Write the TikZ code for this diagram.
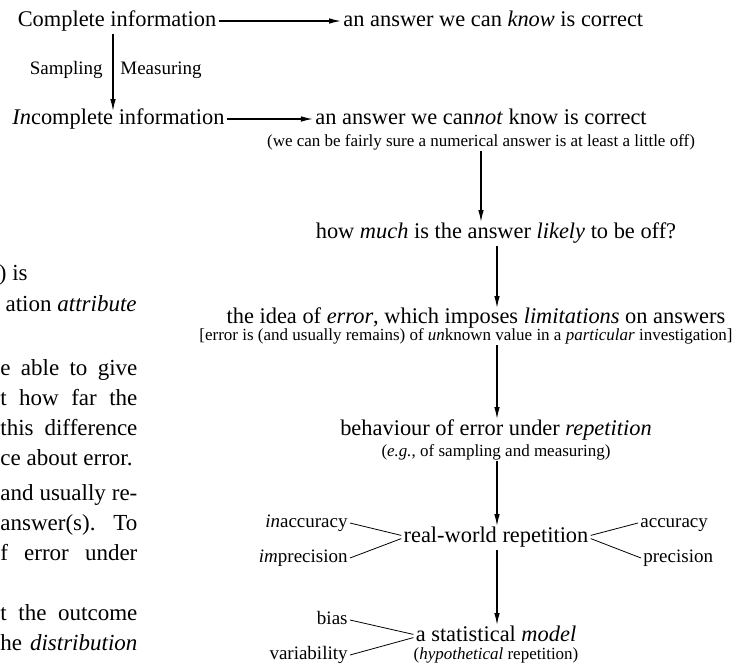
\documentclass[tikz,border=0pt]{standalone}
\usepackage{fontspec}
\setmainfont{Liberation Serif}
\usetikzlibrary{arrows.meta}
\newcommand{\jline}[1]{\makebox[68.5pt][s]{#1}}
\begin{document}
\begin{tikzpicture}[x=0.5pt,y=-0.5pt,
  every node/.style={inner sep=1pt},
  main/.style={font=\fontsize{11.2}{13}\selectfont, text height=8pt, text depth=2.6pt},
  sub/.style={font=\fontsize{8.5}{10}\selectfont, text height=6pt, text depth=2pt, inner sep=0.5pt},
  lab/.style={font=\fontsize{9.5}{11}\selectfont, text height=6.8pt, text depth=2.2pt},
  body/.style={font=\fontsize{11.5}{13}\selectfont, text height=8.2pt, text depth=2.7pt, inner sep=0pt},
  arr/.style={draw, line width=0.65pt, -{Latex[length=6pt,width=2.8pt]}},
  twig/.style={draw, line width=0.4pt}]
\useasboundingbox (0,0) rectangle (752,665);
\coordinate (vx) at (113,0);
\coordinate (col) at (497,0);

\node[main] (ci) at (117,21) {Complete information};
\node[main, anchor=west] (kn) at (341,21) {an answer we can \textit{know} is correct};
\node[main, anchor=west] (ii) at (10,119) {\textit{In}complete information};
\node[main] (cn) at (481,119) {an answer we can\textit{not} know is correct};
\node[sub] (cns) at (481,142) {(we can be fairly sure a numerical answer is at least a little off)};
\node[lab, anchor=east] (samp) at (105,70) {Sampling};
\node[lab, anchor=west] (meas) at (118,70) {Measuring};
\node[main] (how) at (496,233) {how \textit{much} is the answer \textit{likely} to be off?};
\node[main] (idea) at (476,318) {the idea of \textit{error}, which imposes \textit{limitations} on answers};
\node[sub] (ideas) at (466,336) {[error is (and usually remains) of \textit{un}known value in a \textit{particular} investigation]};
\node[main] (beh) at (496,430) {behaviour of error under \textit{repetition}};
\node[sub] (behs) at (496,452) {(\textit{e.g.}, of sampling and measuring)};
\node[main] (rw) at (496,537) {real-world repetition};
\node[lab, anchor=east] (inacc) at (350,523) {\textit{in}accuracy};
\node[lab, anchor=east] (impr) at (350,558) {\textit{im}precision};
\node[lab, anchor=west] (acc) at (638,523) {accuracy};
\node[lab, anchor=west] (prec) at (641,558) {precision};
\node[main] (model) at (496,636) {a statistical \textit{model}};
\node[sub] (hyp) at (496,655) {(\textit{hypothetical} repetition)};
\node[lab, anchor=east] (bias) at (350,620) {bias};
\node[lab, anchor=east] (var) at (350,655) {variability};

\draw[arr] (ci) -- (kn);
\draw[arr, shorten >=-2.5pt] (ci.south -| vx) -- (ii.north -| vx);
\draw[arr] (ii) -- (cn);
\draw[arr, shorten >=-1pt] (cns.south) -- (how.north -| cns);
\draw[arr, shorten >=-1.5pt] (how.south -| col) -- (idea.north -| col);
\draw[arr, shorten >=-1pt] (ideas.south -| col) -- (beh.north -| col);
\draw[arr, shorten >=-1pt] (behs.south -| col) -- (rw.north -| col);
\draw[arr, shorten >=-1pt] (rw.south -| col) -- (model.north -| col);

\draw[twig] (inacc.east) -- ([yshift=0.8pt]rw.west);
\draw[twig] (impr.east) -- ([yshift=-0.8pt]rw.west);
\draw[twig] ([yshift=0.8pt]rw.east) -- (acc.west);
\draw[twig] ([yshift=-0.8pt]rw.east) -- (prec.west);
\draw[twig] (bias.east) -- ([yshift=0.8pt]model.west);
\draw[twig] (var.east) -- ([yshift=-0.8pt]model.west);

\begin{scope}
\clip (0,0) rectangle (752,665);
\node[body, anchor=east] (t1) at (28,275) {) is};
\node[body, anchor=east] (t2) at (137,306) {ation \textit{attribute}};
\node[body, anchor=west] (t3) at (0,370) {\jline{e able to give}};
\node[body, anchor=west] (t4) at (0,400) {\jline{t how far the}};
\node[body, anchor=west] (t5) at (0,430) {\jline{this difference}};
\node[body, anchor=west] (t6) at (0,460) {ce about error.};
\node[body, anchor=west] (t7) at (0,495) {\jline{and usually re-}};
\node[body, anchor=west] (t8) at (0,525) {\jline{answer(s).\ \ To}};
\node[body, anchor=west] (t9) at (0,555) {\jline{f error under}};
\node[body, anchor=west] (t10) at (0,615) {\jline{t the outcome}};
\node[body, anchor=west] (t11) at (0,645) {\jline{he \textit{distribution}}};
\end{scope}
\end{tikzpicture}
\end{document}
